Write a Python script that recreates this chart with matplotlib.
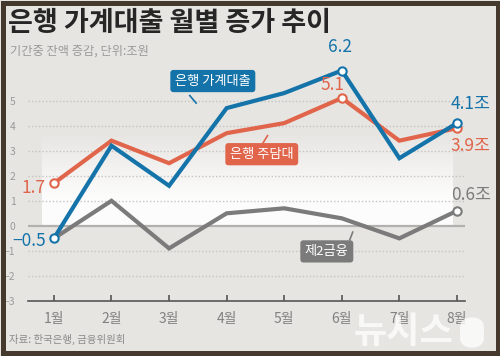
#!/usr/bin/env python3
# -*- coding: utf-8 -*-

import matplotlib
matplotlib.use("Agg")
import matplotlib.pyplot as plt
import matplotlib.patches as mpatches
import numpy as np

plt.rcParams['font.family'] = ['Noto Sans CJK KR', 'DejaVu Sans']
plt.rcParams['axes.unicode_minus'] = True

# ---------------------------------------------------------------------------
# DATA
# ---------------------------------------------------------------------------
months = ['1월', '2월', '3월', '4월', '5월', '6월', '7월', '8월']
bank_household = [-0.5, 3.2, 1.6, 4.7, 5.3, 6.2, 2.7, 4.1]   # 은행 가계대출
bank_mortgage = [1.7, 3.4, 2.5, 3.7, 4.1, 5.1, 3.4, 3.9]     # 은행 주담대
second_tier = [-0.5, 1.0, -0.9, 0.5, 0.7, 0.3, -0.5, 0.6]    # 제2금융
yticks = [-3, -2, -1, 0, 1, 2, 3, 4, 5]

BLUE = '#1473a9'
RED = '#e0654b'
GRAY = '#7b7b7b'
BG = '#e7e5e2'
FRAME = '#45392e'

W, H = 500, 356


def fx(px):
    return px / W


def fy(py):
    return 1 - py / H


# ---------------------------------------------------------------------------
# FIGURE / FRAME
# ---------------------------------------------------------------------------
fig = plt.figure(figsize=(5, 3.56), dpi=100, facecolor=BG)
# dark frame round the picture
fig.patches.append(mpatches.Rectangle((fx(2.5), fy(353)), fx(495), 350.5 / H,
                                      transform=fig.transFigure, fill=False,
                                      edgecolor=FRAME, lw=3.6, zorder=20))

fig.text(fx(8), fy(23), '은행 가계대출 월별 증가 추이', fontsize=19.5,
         fontweight='bold', color='#262626', va='center', ha='left')
fig.text(fx(10), fy(51), '기간중 잔액 증감, 단위:조원', fontsize=8.8,
         color='#9a9a9a', va='center', ha='left')
fig.text(fx(9), fy(339), '자료: 한국은행, 금융위원회', fontsize=7.5,
         color='#8a8a8a', va='center', ha='left')

# watermark
fig.text(fx(354), fy(332), '뉴시스', fontsize=26, fontweight='bold',
         color='white', alpha=0.75, va='center', ha='left', zorder=10)
fig.patches.append(mpatches.FancyBboxPatch((fx(460), fy(348)), fx(24), 31 / H,
                                           boxstyle='round,pad=0,rounding_size=0.03',
                                           transform=fig.transFigure, facecolor='white',
                                           edgecolor='none', alpha=0.75, zorder=10))

# ---------------------------------------------------------------------------
# AXES
# ---------------------------------------------------------------------------
ax = fig.add_axes([fx(28), fy(301), fx(437), 241 / H])
ax.patch.set_alpha(0)
x = np.arange(1, len(months) + 1)

# light gradient panel
grad = np.ones((100, 2, 4))
grad[..., 3] = np.clip(np.linspace(-0.1, 1.3, 100), 0, 0.92)[:, None]
ax.imshow(grad, extent=[0.79, 7.92, 0, 4.0], aspect='auto', origin='upper',
          zorder=0.5, interpolation='bilinear')

for yv in yticks:
    if yv in (0, -3):
        continue
    ax.axhline(yv, color='#c6c4c1', lw=1, ls=(0, (1, 1.5)), zorder=1)
ax.axhline(0, color='#b3b1ae', lw=1.6, zorder=1)

ax.plot(x, second_tier, color=GRAY, lw=3, zorder=3, solid_joinstyle='miter',
        marker='o', markevery=[7], ms=6, mfc='white', mec=GRAY, mew=1.5)
ax.plot(x, bank_mortgage, color=RED, lw=3, zorder=4, solid_joinstyle='miter',
        marker='o', markevery=[0, 5, 7], ms=6, mfc='white', mec=RED, mew=1.5)
ax.plot(x, bank_household, color=BLUE, lw=3, zorder=5, solid_joinstyle='miter',
        marker='o', markevery=[0, 5, 7], ms=6, mfc='white', mec=BLUE, mew=1.5)

ax.set_xlim(0.55, 8.14)
ax.set_ylim(-3, 6.62)

for s in ('top', 'right', 'left'):
    ax.spines[s].set_visible(False)
ax.spines['bottom'].set_color('#555555')
ax.spines['bottom'].set_linewidth(1.2)

ax.set_xticks(x)
ax.set_xticklabels(months)
ax.tick_params(axis='x', direction='in', length=4, width=1.2, color='#555555',
               labelsize=10, labelcolor='#808080', pad=8)
ax.set_yticks(yticks)
ax.set_yticklabels([str(v).replace('-', '\u2212') for v in yticks])
ax.tick_params(axis='y', length=0, labelsize=7.5, labelcolor='#9a9a9a', pad=9)

# ---------------------------------------------------------------------------
# VALUE LABELS
# ---------------------------------------------------------------------------
def value_label(xi, yv, txt, color, dx, dy, ha='center'):
    ax.annotate(txt, (xi, yv), xytext=(dx, dy), textcoords='offset points',
                ha=ha, va='center', fontsize=12.5, color=color,
                annotation_clip=False, zorder=6)


value_label(x[5], bank_household[5], f'{bank_household[5]}', BLUE, -1, 17)
value_label(x[5], bank_mortgage[5], f'{bank_mortgage[5]}', RED, -7, 9.5)
value_label(x[0], bank_mortgage[0], f'{bank_mortgage[0]}', RED, -6, -3.5, ha='right')
value_label(x[0], bank_household[0], f'{bank_household[0]}'.replace('-', '\u2212'),
            BLUE, -6, -2, ha='right')
value_label(x[7], bank_household[7], f'{bank_household[7]}조', BLUE, 10, 13.5)
value_label(x[7], bank_mortgage[7], f'{bank_mortgage[7]}조', RED, 10, -13)
value_label(x[7], second_tier[7], f'{second_tier[7]}조', GRAY, 10, 11.5)

# ---------------------------------------------------------------------------
# CALLOUTS
# ---------------------------------------------------------------------------
def callout(xt, yt, txt, color, tail):
    ax.text(xt, yt, txt, ha='center', va='center', fontsize=9.5, color='white',
            zorder=7, bbox=dict(boxstyle='round,pad=0.35,rounding_size=0.25',
                                fc=color, ec='none'))
    ax.plot(tail[0], tail[1], color=color, lw=1.2, zorder=7, clip_on=False)


callout(3.76, 5.78, '은행 가계대출', BLUE, ([3.36, 3.47], [5.2, 4.9]))
callout(4.61, 2.86, '은행 주담대', RED, ([4.63, 4.71], [3.3, 3.6]))
callout(5.74, -1.02, '제2금융', GRAY, ([6.14, 6.19], [-0.55, -0.25]))

fig.savefig('out.png', dpi=100, facecolor=BG)
